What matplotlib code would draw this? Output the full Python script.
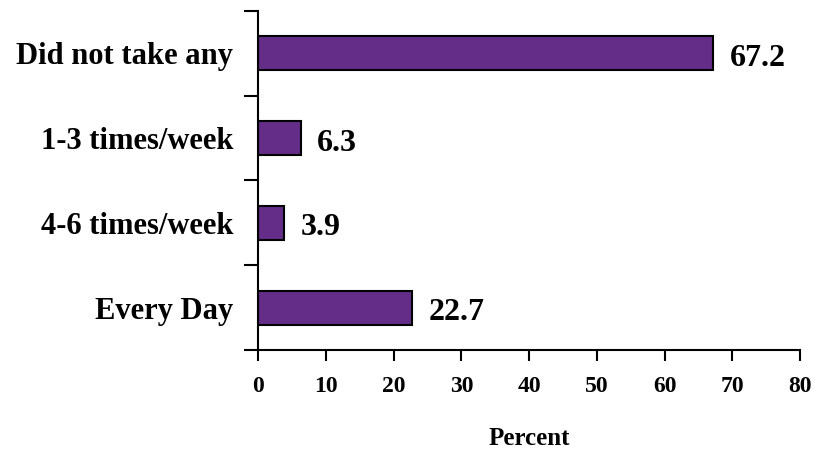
import matplotlib.pyplot as plt
import numpy as np

# data
categories = ["Every Day", "4-6 times/week", "1-3 times/week", "Did not take any"]
percent = [22.7, 3.9, 6.3, 67.2]
xticks = [0, 10, 20, 30, 40, 50, 60, 70, 80]

plt.rcParams['font.family'] = ['Liberation Serif', 'DejaVu Serif']
plt.rcParams['font.weight'] = 'bold'

fig = plt.figure(figsize=(8.14, 4.5), dpi=100)
ax = fig.add_axes([0.317, 0.222, 0.666, 0.754])

ypos = np.arange(len(categories))
ax.barh(ypos, percent, height=0.4, color='#642d88', edgecolor='black', linewidth=1.5)

for y, v in zip(ypos, percent):
    ax.text(v + 2.4, y - 0.06, f"{v}", va='center', ha='left', fontsize=23, fontweight='bold')

ax.set_xlim(0, 80)
ax.set_ylim(-0.5, len(categories) - 0.5)
ax.set_xticks(xticks)
ax.set_xticklabels([str(t) for t in xticks], fontsize=17, fontweight='bold')
ax.set_yticks(ypos)
ax.set_yticklabels(categories, fontsize=22, fontweight='bold')
ax.set_yticks(np.arange(-0.5, len(categories), 1.0), minor=True)
ax.tick_params(axis='y', which='major', length=0, pad=18)
ax.tick_params(axis='y', which='minor', length=10, width=1.5, direction='out')
ax.tick_params(axis='x', which='major', length=8, width=1.5, direction='out', pad=11)

for s in ['top', 'right']:
    ax.spines[s].set_visible(False)
for s in ['left', 'bottom']:
    ax.spines[s].set_linewidth(1.5)

ax.set_xlabel("Percent", fontsize=18, fontweight='bold', labelpad=21)

fig.savefig("out.png", dpi=100)
